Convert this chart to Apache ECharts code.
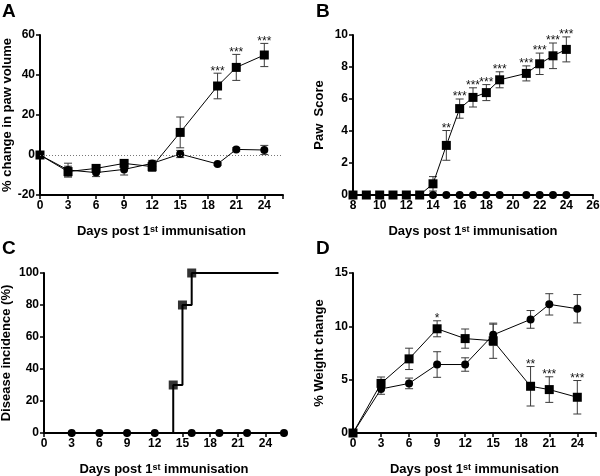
<!DOCTYPE html>
<html>
<head>
<meta charset="utf-8">
<script src="https://cdn.jsdelivr.net/npm/echarts@6/dist/echarts.min.js"></script>
<style>html,body{margin:0;padding:0;background:#fff;}#c{width:600px;height:476px;}</style>
</head>
<body>
<div id="c"></div>
<script>
// Panel A: % change in paw volume
const daysA = [0, 3, 6, 9, 12, 15, 19, 21, 24];
const pawVolSq = [0, -8.3, -6.7, -4.2, -5.8, 11.3, 34.5, 43.8, 50];
const pawVolSqErr = [0, 2.7, 1.3, 1.6, 2.4, 7.7, 6.4, 6.5, 5.8];
const pawVolCi = [0, -7.5, -8.8, -7.2, -4.2, 0.5, -4.5, 2.8, 2.5];
const pawVolCiErr = [0, 3.4, 2.0, 2.8, 1.5, 1.8, 0.6, 0.8, 2.3];
const pawVolStars = ['', '', '', '', '', '', '***', '***', '***'];

// Panel B: paw score
const daysB = [8, 9, 10, 11, 12, 13, 14, 15, 16, 17, 18, 19, 21, 22, 23, 24];
const pawScoreSq = [0, 0, 0, 0, 0, 0, 0.7, 3.1, 5.4, 6.1, 6.4, 7.2, 7.6, 8.2, 8.7, 9.1];
const pawScoreSqErr = [0, 0, 0, 0, 0, 0, 0.45, 0.93, 0.6, 0.6, 0.5, 0.5, 0.47, 0.67, 0.8, 0.78];
const pawScoreCi = [0, 0, 0, 0, 0, 0, 0, 0, 0, 0, 0, 0, 0, 0, 0, 0];
const pawScoreStars = ['', '', '', '', '', '', '', '**', '***', '***', '***', '***', '***', '***', '***', '***'];

// Panel C: disease incidence (step curve)
const incDays = [14, 15, 16];
const incValues = [30, 80, 100];
const incStartDay = 14;
const incEndDay = 25.4;
const incCiDays = [3, 6, 9, 12, 16, 19, 22, 26];
const incCiValues = [0, 0, 0, 0, 0, 0, 0, 0];

// Panel D: % weight change
const daysD = [0, 3, 6, 9, 12, 15, 19, 21, 24];
const weightSq = [0, 4.65, 6.95, 9.77, 8.85, 8.65, 4.38, 4.07, 3.35];
const weightSqErr = [0, 0.6, 1.0, 0.75, 0.9, 1.65, 1.85, 1.2, 1.57];
const weightCi = [0, 4.13, 4.65, 6.42, 6.42, 9.2, 10.65, 12.06, 11.65];
const weightCiErr = [0, 0.5, 0.5, 1.2, 0.63, 1.0, 0.83, 1.0, 1.33];
const weightStars = ['', '', '', '*', '', '', '**', '***', '***'];

// Tick settings
const xTicksA = {min: 0, max: 26, interval: 3};
const xTicksB = {min: 8, max: 26, interval: 2};
const xTicksC = {min: 0, max: 26, interval: 3};
const xTicksD = {min: 0, max: 26, interval: 3};
const yTicksA = {min: -20, max: 60, interval: 20};
const yTicksB = {min: 0, max: 10, interval: 2};
const yTicksC = {min: 0, max: 100, interval: 20};
const yTicksD = {min: 0, max: 15, interval: 5};

const FONT = 'Liberation Sans, Arial, Helvetica, sans-serif';
const xTitle = 'Days post 1{s|st} immunisation';

function zip(xs, ys) { return xs.map((x, i) => [x, ys[i]]); }

function xAxis(idx, t) {
  return {
    gridIndex: idx, type: 'value', min: t.min, max: t.max, interval: t.interval,
    name: xTitle, nameLocation: 'middle', nameGap: 30,
    nameTextStyle: {
      fontFamily: FONT, fontSize: 13, fontWeight: 'bold', color: '#000',
      rich: { s: { fontFamily: FONT, fontSize: 9, fontWeight: 'bold', color: '#000', verticalAlign: 'top', lineHeight: 11, padding: [0, 0, 8, 0] } }
    },
    axisLine: { onZero: false, lineStyle: { color: '#000', width: 2 } },
    axisTick: { show: true, length: 4, lineStyle: { color: '#000', width: 1.5 } },
    axisLabel: {
      fontFamily: FONT, fontSize: 12, fontWeight: 'bold', color: '#000', margin: 5,
      formatter: v => (Math.abs(((v - t.min) / t.interval) - Math.round((v - t.min) / t.interval)) < 1e-6) ? String(v) : ''
    },
    splitLine: { show: false }
  };
}
function yAxis(idx, t, name, gap) {
  return {
    gridIndex: idx, type: 'value', min: t.min, max: t.max, interval: t.interval,
    name: name, nameLocation: 'middle', nameGap: gap, nameRotate: 90,
    nameTextStyle: { fontFamily: FONT, fontSize: 13, fontWeight: 'bold', color: '#000' },
    axisLine: { onZero: false, lineStyle: { color: '#000', width: 2 } },
    axisTick: { show: true, length: 4, lineStyle: { color: '#000', width: 1.5 } },
    axisLabel: { fontFamily: FONT, fontSize: 12, fontWeight: 'bold', color: '#000', margin: 5 },
    splitLine: { show: false }
  };
}

function lineSeries(idx, xs, ys, symbol, size, z) {
  return {
    type: 'line', xAxisIndex: idx, yAxisIndex: idx, data: zip(xs, ys),
    symbol: symbol, symbolSize: size, showAllSymbol: true,
    lineStyle: { color: '#000', width: 1 },
    itemStyle: { color: '#000', borderWidth: 0 },
    z: z, silent: true, animation: false
  };
}

function errSeries(idx, xs, ys, errs, stars) {
  return {
    type: 'custom', xAxisIndex: idx, yAxisIndex: idx, z: 1, silent: true, animation: false,
    data: xs.map((x, i) => [x, ys[i], errs[i]]),
    renderItem: function (params, api) {
      const x = api.value(0), y = api.value(1), e = api.value(2);
      const children = [];
      const top = api.coord([x, y + e]);
      const bot = api.coord([x, y - e]);
      const hw = 4;
      const st = { stroke: '#3a3a3a', lineWidth: 1 };
      if (e > 0) {
        children.push({ type: 'line', shape: { x1: top[0], y1: top[1], x2: bot[0], y2: bot[1] }, style: st });
        children.push({ type: 'line', shape: { x1: top[0] - hw, y1: top[1], x2: top[0] + hw, y2: top[1] }, style: st });
        children.push({ type: 'line', shape: { x1: bot[0] - hw, y1: bot[1], x2: bot[0] + hw, y2: bot[1] }, style: st });
      }
      const s = stars ? stars[params.dataIndex] : '';
      if (s) {
        children.push({ type: 'text', style: { text: s, x: top[0], y: top[1] + 4, align: 'center', verticalAlign: 'bottom', font: '12px ' + FONT, fill: '#111' } });
      }
      return { type: 'group', children: children };
    }
  };
}

const grids = [
  { left: 40, top: 35, width: 243, height: 160, outerBoundsMode: 'none', containLabel: false },
  { left: 353, top: 35, width: 240, height: 160, outerBoundsMode: 'none', containLabel: false },
  { left: 44, top: 273, width: 240, height: 160, outerBoundsMode: 'none', containLabel: false },
  { left: 353, top: 273, width: 243, height: 160, outerBoundsMode: 'none', containLabel: false }
];

const option = {
  animation: false,
  backgroundColor: '#fff',
  grid: grids,
  xAxis: [xAxis(0, xTicksA), xAxis(1, xTicksB), xAxis(2, xTicksC), xAxis(3, xTicksD)],
  yAxis: [
    yAxis(0, yTicksA, '% change in paw volume', 26),
    yAxis(1, yTicksB, 'Paw  Score', 27),
    yAxis(2, yTicksC, 'Disease incidence (%)', 31),
    yAxis(3, yTicksD, '% Weight change', 27)
  ],
  graphic: [
    { type: 'text', left: 2, top: 2, style: { text: 'A', font: 'bold 19px ' + FONT, fill: '#000' } },
    { type: 'text', left: 316, top: 2, style: { text: 'B', font: 'bold 19px ' + FONT, fill: '#000' } },
    { type: 'text', left: 2, top: 239, style: { text: 'C', font: 'bold 19px ' + FONT, fill: '#000' } },
    { type: 'text', left: 316, top: 239, style: { text: 'D', font: 'bold 19px ' + FONT, fill: '#000' } }
  ],
  series: [
    // A
    Object.assign(lineSeries(0, daysA, pawVolCi, 'circle', 8, 3), {
      markLine: { silent: true, symbol: 'none', label: { show: false },
        lineStyle: { color: '#777', type: [1, 2], width: 1 }, data: [{ yAxis: 0 }], animation: false }
    }),
    lineSeries(0, daysA, pawVolSq, 'rect', 9, 4),
    errSeries(0, daysA, pawVolCi, pawVolCiErr, null),
    errSeries(0, daysA, pawVolSq, pawVolSqErr, pawVolStars),
    // B
    lineSeries(1, daysB, pawScoreCi, 'circle', 8, 3),
    lineSeries(1, daysB, pawScoreSq, 'rect', 9, 4),
    errSeries(1, daysB, pawScoreSq, pawScoreSqErr, pawScoreStars),
    // C
    {
      type: 'line', xAxisIndex: 2, yAxisIndex: 2, step: 'end', showSymbol: false, symbol: 'none',
      data: [[incStartDay, 0]].concat(zip(incDays, incValues)).concat([[incEndDay, incValues[incValues.length - 1]]]),
      lineStyle: { color: '#000', width: 2 }, z: 3, silent: true, animation: false
    },
    {
      type: 'scatter', xAxisIndex: 2, yAxisIndex: 2, data: zip(incDays, incValues), symbol: 'rect', symbolSize: 9,
      itemStyle: { color: '#000' }, z: 4, silent: true, animation: false
    },
    Object.assign(lineSeries(2, incCiDays, incCiValues, 'circle', 8, 3), {
      lineStyle: { color: '#000', width: 2 },
      data: [{ value: [0, 0], symbol: 'none' }].concat(zip(incCiDays, incCiValues))
    }),
    // D
    lineSeries(3, daysD, weightCi, 'circle', 8, 3),
    lineSeries(3, daysD, weightSq, 'rect', 9, 4),
    errSeries(3, daysD, weightCi, weightCiErr, null),
    errSeries(3, daysD, weightSq, weightSqErr, weightStars)
  ]
};

const chart = echarts.init(document.getElementById('c'), null, { renderer: 'canvas' });
chart.setOption(option);
</script>
</body>
</html>
